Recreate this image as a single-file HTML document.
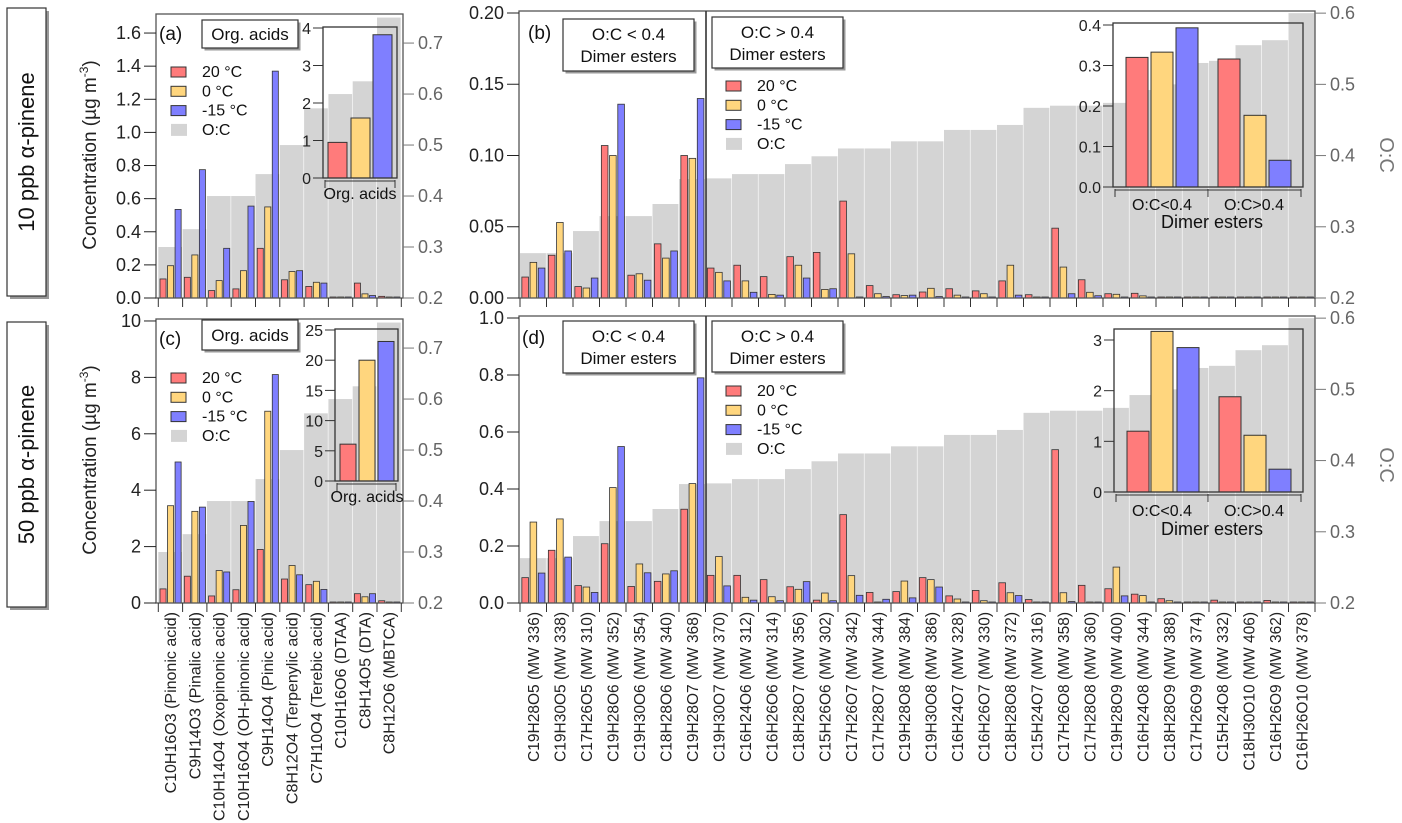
<!DOCTYPE html>
<html><head><meta charset="utf-8"><style>
html,body{margin:0;padding:0;background:#fff;}
svg{display:block;font-family:"Liberation Sans",Arial,sans-serif;}
</style></head><body>
<svg id="fig" width="1402" height="823" viewBox="0 0 1402 823" xmlns="http://www.w3.org/2000/svg"></svg>
<script>
// ---------- DATA ----------
const acidCats = ["C10H16O3 (Pinonic acid)","C9H14O3 (Pinalic acid)","C10H14O4 (Oxopinonic acid)","C10H16O4 (OH-pinonic acid)","C9H14O4 (Pinic acid)","C8H12O4 (Terpenylic acid)","C7H10O4 (Terebic acid)","C10H16O6 (DTAA)","C8H14O5 (DTA)","C8H12O6 (MBTCA)"];
const acidOC = [0.30,0.335,0.40,0.40,0.443,0.50,0.572,0.60,0.625,0.75];
const acid10Red = [0.115,0.125,0.045,0.055,0.30,0.11,0.07,0.003,0.09,0.01];
const acid10Yel = [0.195,0.26,0.105,0.165,0.55,0.16,0.095,0.003,0.025,0.003];
const acid10Blu = [0.535,0.775,0.30,0.555,1.37,0.165,0.09,0.003,0.015,0.003];
const acid50Red = [0.5,0.95,0.25,0.47,1.9,0.85,0.65,0.02,0.33,0.08];
const acid50Yel = [3.45,3.25,1.15,2.75,6.8,1.33,0.77,0.02,0.22,0.01];
const acid50Blu = [5.0,3.4,1.1,3.6,8.1,1.0,0.48,0.02,0.33,0.01];
const acidTicks10 = [0,0.2,0.4,0.6,0.8,1.0,1.2,1.4,1.6];
const acidTicks50 = [0,2,4,6,8,10];
const ocTicksAcid = [0.2,0.3,0.4,0.5,0.6,0.7];

const dimerCats = ["C19H28O5 (MW 336)","C19H30O5 (MW 338)","C17H26O5 (MW 310)","C19H28O6 (MW 352)","C19H30O6 (MW 354)","C18H28O6 (MW 340)","C19H28O7 (MW 368)","C19H30O7 (MW 370)","C16H24O6 (MW 312)","C16H26O6 (MW 314)","C18H28O7 (MW 356)","C15H26O6 (MW 302)","C17H26O7 (MW 342)","C17H28O7 (MW 344)","C19H28O8 (MW 384)","C19H30O8 (MW 386)","C16H24O7 (MW 328)","C16H26O7 (MW 330)","C18H28O8 (MW 372)","C15H24O7 (MW 316)","C17H26O8 (MW 358)","C17H28O8 (MW 360)","C19H28O9 (MW 400)","C16H24O8 (MW 344)","C18H28O9 (MW 388)","C17H26O9 (MW 374)","C15H24O8 (MW 332)","C18H30O10 (MW 406)","C16H26O9 (MW 362)","C16H26O10 (MW 378)"];
const dimerOC = [0.263,0.263,0.294,0.315,0.315,0.332,0.367,0.368,0.374,0.374,0.388,0.399,0.41,0.41,0.42,0.42,0.436,0.436,0.443,0.467,0.47,0.47,0.474,0.492,0.50,0.53,0.533,0.555,0.562,0.60];
const dimer10Red = [0.0147,0.030,0.008,0.107,0.016,0.038,0.100,0.021,0.023,0.015,0.029,0.032,0.068,0.0087,0.0023,0.0042,0.0065,0.005,0.012,0.0023,0.049,0.0128,0.003,0.0033,0.0005,0.0005,0.0005,0.0005,0.0005,0.0005];
const dimer10Yel = [0.025,0.053,0.007,0.100,0.017,0.028,0.098,0.018,0.012,0.0025,0.023,0.006,0.031,0.003,0.0017,0.0068,0.002,0.003,0.023,0.0005,0.0217,0.004,0.0026,0.0015,0.0005,0.0005,0.0005,0.0005,0.0005,0.0005];
const dimer10Blu = [0.021,0.033,0.014,0.136,0.0125,0.033,0.140,0.012,0.004,0.002,0.014,0.0065,0.0005,0.001,0.002,0.001,0.0005,0.0005,0.002,0.0005,0.003,0.0016,0.0005,0.0005,0.0005,0.0005,0.0005,0.0005,0.0005,0.0005];
const dimer50Red = [0.089,0.185,0.061,0.208,0.058,0.076,0.329,0.097,0.097,0.082,0.057,0.010,0.31,0.037,0.040,0.089,0.025,0.044,0.071,0.012,0.538,0.062,0.050,0.031,0.015,0.002,0.010,0.002,0.009,0.002];
const dimer50Yel = [0.284,0.295,0.056,0.405,0.137,0.102,0.419,0.163,0.020,0.022,0.048,0.035,0.096,0.002,0.077,0.082,0.014,0.008,0.036,0.002,0.036,0.002,0.126,0.026,0.008,0.002,0.002,0.002,0.002,0.002];
const dimer50Blu = [0.105,0.161,0.037,0.549,0.106,0.113,0.79,0.060,0.010,0.008,0.075,0.008,0.027,0.013,0.018,0.056,0.002,0.002,0.026,0.002,0.005,0.002,0.025,0.002,0.002,0.002,0.002,0.002,0.002,0.002];
const dimerTicks10 = [0,0.05,0.10,0.15,0.20];
const dimerTicks50 = [0,0.2,0.4,0.6,0.8,1.0];
const ocTicksDimer = [0.2,0.3,0.4,0.5,0.6];

const inset10Acid = [0.95,1.6,3.82];
const inset50Acid = [6.1,20.0,23.1];
const insetTicks10Acid = [0,1,2,3,4];
const insetTicks50Acid = [0,5,10,15,20,25];
const insetGroups = ["O:C<0.4","O:C>0.4"];
const inset10Dimer = [[0.32,0.333,0.393],[0.316,0.177,0.066]];
const inset50Dimer = [[1.2,3.17,2.85],[1.88,1.12,0.45]];
const insetTicks10Dimer = [0,0.1,0.2,0.3,0.4];
const insetTicks50Dimer = [0,1,2,3];

const COLORS = ["#ff7b7b","#ffd67e","#7f7fff"];
const SERIES = ["20 °C","0 °C","-15 °C"];
const svg = document.getElementById('fig');
const NS = 'http://www.w3.org/2000/svg';
function mk(tag, attrs, parent){
  const e = document.createElementNS(NS, tag);
  for (const k in attrs) e.setAttribute(k, attrs[k]);
  (parent||svg).appendChild(e);
  return e;
}
function txt(s, attrs, parent){ const t = mk('text', attrs, parent); t.textContent = s; return t; }
function fmt(v, d){ return v.toFixed(d); }

function panel(p){
  const g = mk('g', {});
  
  
  const n = p.cats.length;
  const yL = v => p.yBot - (v - 0) * (p.yBot - p.yTop) / p.lMax;
  const yR = v => p.yBot - (v - 0.2) * (p.yBot - p.yTop) / (p.rMax - 0.2);
  const xC = i => p.cx0 + i * p.cw;
  p.oc.forEach((v, i) => {
    const y = Math.max(p.yTop, yR(v));
    const r = mk('rect', {x: xC(i), y: y, width: p.cw - 0.6, height: p.yBot - y, fill: '#d4d4d4'}, g);
    
    
  });
  p.series.forEach((arr, s) => {
    arr.forEach((v, i) => {
      const y = yL(v);
      const h = Math.max(1, p.yBot - y);
      const r = mk('rect', {x: xC(i) + p.cw * (0.07 + s * 0.31), y: p.yBot - h, width: p.cw * 0.25, height: h, fill: COLORS[s], stroke: '#333', 'stroke-width': 0.8}, g);
      
      
    });
  });
  const fr = mk('rect', {x: p.x0, y: p.yTop, width: p.x1 - p.x0, height: p.yBot - p.yTop, fill: 'none', stroke: '#555', 'stroke-width': 1.3}, g);
  
  
  p.lTicks.forEach(v => {
    const y = yL(v);
    mk('line', {x1: p.x0 - 12, x2: p.x0, y1: y, y2: y, stroke: '#222', 'stroke-width': 1}, g);
    const t = txt(fmt(v, p.lDec), {x: p.x0 - 15, y: y + 6, 'font-size': 18, 'text-anchor': 'end', fill: '#222'}, g);
    
    
  });
  p.rTicks.forEach(v => {
    const y = yR(v);
    mk('line', {x1: p.x1, x2: p.x1 + 11, y1: y, y2: y, stroke: '#777', 'stroke-width': 1}, g);
    const t = txt(fmt(v, 1), {x: p.x1 + 15, y: y + 6, 'font-size': 18, fill: '#666'}, g);
    
    
  });
  for (let i = 0; i <= n; i++) {
    mk('line', {x1: xC(i), x2: xC(i), y1: p.yBot, y2: p.yBot + 9, stroke: '#333', 'stroke-width': 1}, g);
  }
  if (p.labels) {
    p.cats.forEach((c, i) => {
      const cx = xC(i) + p.cw / 2 + 5.5;
      const t = txt(c, {x: 0, y: 0, 'font-size': p.labelSize, 'text-anchor': 'end', fill: '#222', transform: 'translate(' + cx + ',612) rotate(-90)'}, g);
      
      
    });
  }
  return g;
}

function inset(p){
  const g = mk('g', {});
  
  
  const y = v => p.y0 - v * (p.y0 - p.yMaxPx) / p.vMax;
  p.bars.forEach((grp, gi) => {
    grp.forEach((v, s) => {
      const yy = y(v);
      const r = mk('rect', {x: p.bx[gi][s], y: yy, width: p.bw, height: p.y0 - yy, fill: COLORS[s], stroke: '#333', 'stroke-width': 1}, g);
      
      
    });
  });
  const fr = mk('rect', {x: p.x0, y: p.top, width: p.x1 - p.x0, height: p.y0 - p.top, fill: 'none', stroke: '#333', 'stroke-width': 1.3}, g);
  
  
  p.ticks.forEach(v => {
    const yy = y(v);
    mk('line', {x1: p.x0 - 10, x2: p.x0, y1: yy, y2: yy, stroke: '#333'}, g);
    const t = txt(fmt(v, p.dec), {x: p.x0 - 12, y: yy + 6, 'font-size': 16, 'text-anchor': 'end', fill: '#222'}, g);
    
    
  });
  p.xt.forEach(x => mk('line', {x1: x, x2: x, y1: p.y0 + 2, y2: p.y0 + 10, stroke: '#333'}, g));
  mk('line', {x1: p.xt[0], x2: p.xt[p.xt.length-1], y1: p.y0 + 3, y2: p.y0 + 3, stroke: '#333'}, g);
  p.labels.forEach(l => {
    const t = txt(l.t, {x: l.x, y: l.y, 'font-size': l.s, 'text-anchor': 'middle', fill: '#111'}, g);
    
    
  });
}

function tbox(x, y, w, h, lines, name){
  const g = mk('g', {});
  
  
  mk('rect', {x: x + 2.5, y: y + 2.5, width: w, height: h, fill: '#999'}, g);
  mk('rect', {x: x, y: y, width: w, height: h, fill: '#fff', stroke: '#333', 'stroke-width': 1.2}, g);
  lines.forEach((l, i) => {
    txt(l, {x: x + w / 2, y: y + (lines.length === 1 ? h / 2 + 6 : 21 + i * 22), 'font-size': 17, 'text-anchor': 'middle', fill: '#111'}, g);
  });
}

function legend(x, y, name){
  const g = mk('g', {});
  
  
  SERIES.forEach((s, i) => {
    const e = mk('rect', {x: x, y: y + i * 19.3, width: 15, height: 10, fill: COLORS[i], stroke: '#333', 'stroke-width': 1}, g);
    
    
    txt(s, {x: x + 31, y: y + i * 19.3 + 10, 'font-size': 16, fill: '#111'}, g);
  });
  mk('rect', {x: x, y: y + 3 * 19.3 - 1, width: 16, height: 12, fill: '#d4d4d4'}, g);
  txt('O:C', {x: x + 31, y: y + 3 * 19.3 + 10, 'font-size': 16, fill: '#111'}, g);
}

panel({name:'panel-a', cats: acidCats, oc: acidOC, series:[acid10Red,acid10Yel,acid10Blu], x0:156, x1:403, cx0:158.3, cw:24.3, yTop:14, yBot:298, lMax:1.715, rMax:0.757, lTicks: acidTicks10, lDec:1, rTicks: ocTicksAcid, labels:false});
panel({name:'panel-c', cats: acidCats, oc: acidOC, series:[acid50Red,acid50Yel,acid50Blu], x0:156, x1:403, cx0:158.3, cw:24.3, yTop:319, yBot:603, lMax:10.07, rMax:0.757, lTicks: acidTicks50, lDec:0, rTicks: ocTicksAcid, labels:true, labelSize:16});
panel({name:'panel-b', cats: dimerCats, oc: dimerOC, series:[dimer10Red,dimer10Yel,dimer10Blu], x0:519, x1:1315, cx0:520, cw:26.5, yTop:11, yBot:298, lMax:0.2014, rMax:0.603, lTicks: dimerTicks10, lDec:2, rTicks: ocTicksDimer, labels:false});
panel({name:'panel-d', cats: dimerCats, oc: dimerOC, series:[dimer50Red,dimer50Yel,dimer50Blu], x0:519, x1:1315, cx0:520, cw:26.5, yTop:316, yBot:603, lMax:1.007, rMax:0.603, lTicks: dimerTicks50, lDec:1, rTicks: ocTicksDimer, labels:true, labelSize:15.5});

[[11,298],[316,603]].forEach(r => {
  const l = mk('line', {x1:706, x2:706, y1:r[0], y2:r[1], stroke:'#333', 'stroke-width':1.6});
  
  
});

inset({name:'inset-a', bars:[inset10Acid], bx:[[328,351,373]], bw:19, x0:323, x1:397, top:27, y0:178, yMaxPx:28, vMax:4, ticks:insetTicks10Acid, dec:0, xt:[325,395], labels:[{t:'Org. acids', x:360, y:199, s:16}]});
inset({name:'inset-c', bars:[inset50Acid], bx:[[340,359,378]], bw:16, x0:335, x1:398, top:329, y0:481, yMaxPx:330, vMax:25, ticks:insetTicks50Acid, dec:0, xt:[337,396], labels:[{t:'Org. acids', x:367, y:502, s:16}]});
inset({name:'inset-b', bars:inset10Dimer, bx:[[1126,1151,1176],[1218,1244,1269]], bw:22, x0:1113, x1:1303, top:23, y0:187, yMaxPx:25, vMax:0.4, ticks:insetTicks10Dimer, dec:1, xt:[1115,1208,1301], labels:[{t:insetGroups[0], x:1162, y:210, s:16},{t:insetGroups[1], x:1254, y:210, s:16},{t:'Dimer esters', x:1212, y:228, s:18}]});
inset({name:'inset-d', bars:inset50Dimer, bx:[[1127,1151,1177],[1219,1244,1269]], bw:22, x0:1114, x1:1303, top:329, y0:492, yMaxPx:340, vMax:3, ticks:insetTicks50Dimer, dec:0, xt:[1116,1208,1301], labels:[{t:insetGroups[0], x:1162, y:516, s:16},{t:insetGroups[1], x:1254, y:516, s:16},{t:'Dimer esters', x:1212, y:535, s:18}]});

tbox(202,20,96,28,['Org. acids'],'label-org-acids-a');
tbox(202,320,96,30,['Org. acids'],'label-org-acids-c');
tbox(563,19,131,52,['O:C < 0.4','Dimer esters'],'label-low-oc-b');
tbox(712,17,131,51,['O:C > 0.4','Dimer esters'],'label-high-oc-b');
tbox(563,321,131,52,['O:C < 0.4','Dimer esters'],'label-low-oc-d');
tbox(712,321,131,51,['O:C > 0.4','Dimer esters'],'label-high-oc-d');

legend(171,67,'legend-a');
legend(171,373,'legend-c');
legend(726,81,'legend-b');
legend(726,386,'legend-d');

[['(a)',159,40],['(c)',159,345],['(b)',528,39],['(d)',522,344]].forEach(a => {
  const t = txt(a[0], {x:a[1], y:a[2], 'font-size':19, fill:'#111'});
  
  
});

[155,460].forEach(cy => {
  const t = mk('text', {x:0, y:0, 'font-size':19, 'text-anchor':'middle', fill:'#222', transform:'translate(96,'+cy+') rotate(-90)'});
  
  
  const a = mk('tspan', {}, t); a.textContent = 'Concentration (µg m';
  const b = mk('tspan', {dy:-8, 'font-size':12}, t); b.textContent = '-3';
  const c = mk('tspan', {dy:8}, t); c.textContent = ')';
});
[155,465].forEach(cy => {
  const t = txt('O:C', {x:0, y:0, 'font-size':20, 'text-anchor':'middle', fill:'#777', transform:'translate(1380,'+cy+') rotate(90)'});
  
  
});

[[8,296,'10 ppb α-pinene','row-label-10ppb'],[322,607,'50 ppb α-pinene','row-label-50ppb']].forEach(b => {
  const g = mk('g', {});
  
  
  mk('rect', {x:10, y:b[0]+3, width:39, height:b[1]-b[0], fill:'#999'}, g);
  mk('rect', {x:7, y:b[0], width:39, height:b[1]-b[0], fill:'#fff', stroke:'#333', 'stroke-width':1.2}, g);
  txt(b[2], {x:0, y:0, 'font-size':22, 'text-anchor':'middle', fill:'#111', transform:'translate(34,'+((b[0]+b[1])/2)+') rotate(-90)'}, g);
});
</script>
</body></html>
